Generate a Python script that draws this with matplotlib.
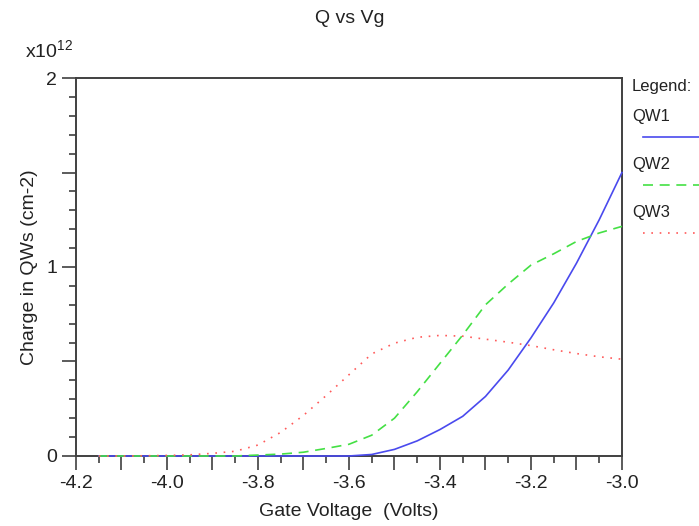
import matplotlib
matplotlib.use("Agg")
import matplotlib.pyplot as plt
from matplotlib.lines import Line2D
from matplotlib.ticker import MultipleLocator, FuncFormatter

plt.rcParams['font.family'] = ['Liberation Sans', 'DejaVu Sans']
plt.rcParams['mathtext.default'] = 'regular'

# Gate voltage (Volts) and charge per quantum well (units of 1e12 cm-2)
vg = [-4.15, -4.1, -4.05, -4.0, -3.95, -3.9, -3.85, -3.8, -3.75, -3.7, -3.65, -3.6,
      -3.55, -3.5, -3.45, -3.4, -3.35, -3.3, -3.25, -3.2, -3.15, -3.1, -3.05, -3.0]
qw1 = [0, 0, 0, 0, 0, 0, 0, 0, 0, 0, 0, 0,
       0.008, 0.035, 0.08, 0.14, 0.21, 0.315, 0.455, 0.625, 0.81, 1.02, 1.25, 1.50]
qw2 = [0, 0, 0, 0, 0, 0, 0, 0.005, 0.01, 0.02, 0.04, 0.062,
       0.11, 0.20, 0.34, 0.49, 0.64, 0.80, 0.91, 1.01, 1.07, 1.135, 1.18, 1.215]
qw3 = [0, 0, 0.001, 0.003, 0.006, 0.014, 0.025, 0.058, 0.125, 0.215, 0.32, 0.43,
       0.54, 0.597, 0.628, 0.638, 0.634, 0.618, 0.602, 0.584, 0.562, 0.542, 0.525, 0.512]

names = ['QW1', 'QW2', 'QW3']
colors = ['#4a4aee', '#44e044', '#ff5a5a']
styles = ['-', (0, (6, 4)), (0, (1, 4))]

fig = plt.figure(figsize=(6.99, 5.26), dpi=100)
ax = fig.add_axes([0.1087, 0.1331, 0.7811, 0.7186])

for ys, c, ls in zip([qw1, qw2, qw3], colors, styles):
    ax.plot(vg, ys, color=c, linestyle=ls, linewidth=1.2, clip_on=False, zorder=3)

ax.set_xlim(-4.2, -3.0)
ax.set_ylim(0, 2)
# long ticks every 0.1 V, labels every 0.2 V
ax.xaxis.set_major_locator(MultipleLocator(0.1))
ax.xaxis.set_minor_locator(MultipleLocator(0.05))
ax.xaxis.set_major_formatter(FuncFormatter(
    lambda v, p: f'{v:.1f}' if abs(round(v * 10)) % 2 == 0 else ''))
ax.yaxis.set_major_locator(MultipleLocator(0.5))
ax.yaxis.set_minor_locator(MultipleLocator(0.1))
ax.yaxis.set_major_formatter(FuncFormatter(
    lambda v, p: f'{v:.0f}' if abs(v - round(v)) < 1e-6 else ''))
ax.tick_params(which='both', direction='out', colors='#404040', labelcolor='#222222',
               labelsize=14, width=1.2)
ax.tick_params(which='major', length=10)
ax.tick_params(which='minor', length=5)
for s in ax.spines.values():
    s.set_color('#404040')
    s.set_linewidth(1.4)

ax.set_xlabel('Gate Voltage  (Volts)', fontsize=14, color='#222222', labelpad=8)
ax.set_ylabel('Charge in QWs (cm-2)', fontsize=14, color='#222222', labelpad=6)
fig.text(0.5, 0.965, 'Q vs Vg', ha='center', va='center', fontsize=14, color='#222222')
fig.text(0.036, 0.905, 'x10$^{12}$', ha='left', va='center', fontsize=14, color='#222222')

# legend drawn outside the axes on the right
fig.text(632 / 699, 1 - 86 / 526, 'Legend:', ha='left', va='center', fontsize=12, color='#222222')
for i, (n, c, ls) in enumerate(zip(names, colors, styles)):
    ty = 116 + i * 48
    fig.text(632 / 699, 1 - ty / 526, n, ha='left', va='center', fontsize=12, color='#222222')
    ly = 1 - (ty + 21) / 526
    fig.add_artist(Line2D([643 / 699, 1.0], [ly, ly], color=c, linestyle=ls,
                          linewidth=1.2, transform=fig.transFigure))

fig.savefig('out.png', dpi=100)
